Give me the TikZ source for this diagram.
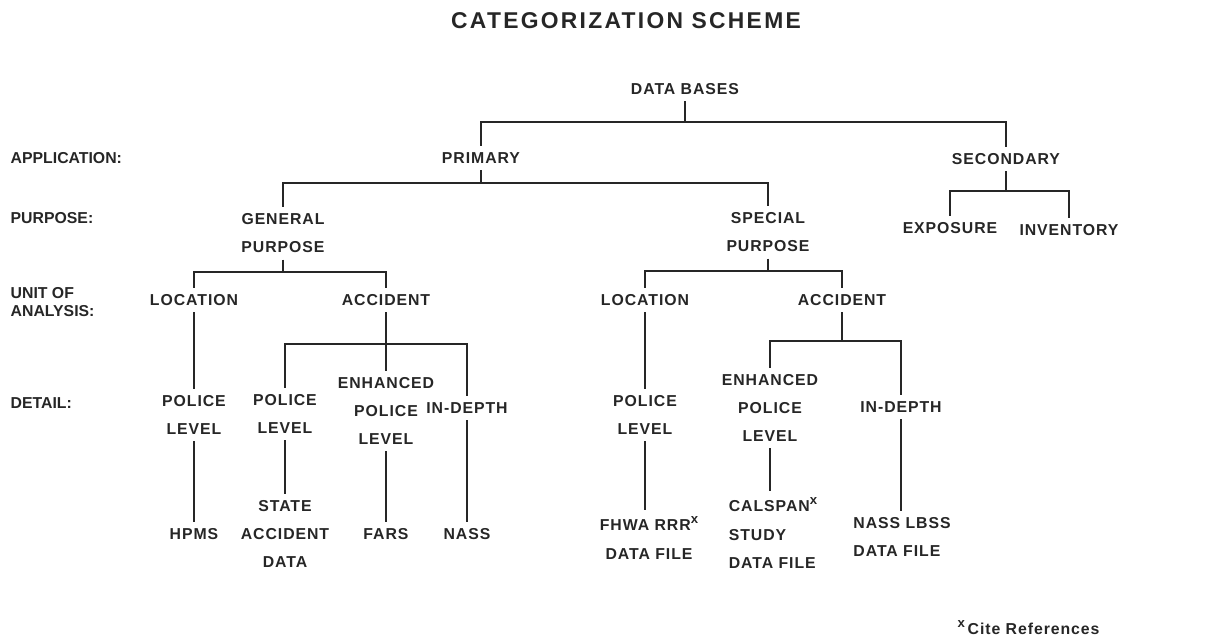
\documentclass[tikz,border=0pt]{standalone}
\usepackage{fontspec}
\setmainfont{Liberation Sans}
\newfontfamily\treefont{Liberation Sans}[LetterSpace=6]
\newfontfamily\headfont{Liberation Sans}[LetterSpace=10]
\newcommand{\citex}{\raisebox{0.45em}{\fontsize{7.5}{8}\selectfont x}}
\begin{document}
\begin{tikzpicture}[x=0.02cm, y=-0.02cm, line width=0.8pt, draw=black!85,
  every node/.style={text=black!85, inner sep=3.5pt},
  cat/.style={font=\treefont\bfseries\fontsize{9}{16}\selectfont, align=center},
  lvl/.style={font=\bfseries\fontsize{9}{10.3}\selectfont, anchor=west, align=left, inner sep=0pt}]
\useasboundingbox (0,0) rectangle (1210,637);
% title and level names
\node[font=\headfont\bfseries\fontsize{13}{15}\selectfont] (title) at (626,21) {CATEGORIZATION SCHEME};
\node[lvl] (app) at (10,158) {APPLICATION:};
\node[lvl] (purp) at (10,218) {PURPOSE:};
\node[lvl] (unit) at (10,302) {UNIT OF\\ANALYSIS:};
\node[lvl] (detail) at (10,403) {DETAIL:};
% tree
\node[cat] (db) at (685,89) {DATA BASES};
\node[cat] (prim) at (481,158) {PRIMARY};
\node[cat] (sec) at (1006,159) {SECONDARY};
\node[cat] (gen) at (283,233) {GENERAL\\PURPOSE};
\node[cat] (spec) at (768,232) {SPECIAL\\PURPOSE};
\node[cat] (expo) at (950,228) {EXPOSURE};
\node[cat] (inv) at (1069,230) {INVENTORY};
\node[cat] (gloc) at (194,300) {LOCATION};
\node[cat] (gacc) at (386,300) {ACCIDENT};
\node[cat] (sloc) at (645,300) {LOCATION};
\node[cat] (sacc) at (842,300) {ACCIDENT};
\node[cat] (gpol) at (194,415) {POLICE\\LEVEL};
\node[cat] (gpol2) at (285,414) {POLICE\\LEVEL};
\node[cat] (genh) at (386,411) {ENHANCED\\POLICE\\LEVEL};
\node[cat] (gdep) at (467,408) {IN-DEPTH};
\node[cat] (spol) at (645,415) {POLICE\\LEVEL};
\node[cat] (senh) at (770,408) {ENHANCED\\POLICE\\LEVEL};
\node[cat] (sdep) at (901,407) {IN-DEPTH};
\node[cat] (hpms) at (194,534) {HPMS};
\node[cat] (state) at (285,534) {STATE\\ACCIDENT\\DATA};
\node[cat] (fars) at (386,534) {FARS};
\node[cat] (nass) at (467,534) {NASS};
\node[cat] (fhwa) at (649,538) {FHWA RRR\citex\\DATA FILE};
\node[cat, align=left] (calspan) at (773,533) {CALSPAN\citex\\STUDY\\DATA FILE};
\node[cat, align=left] (lbss) at (902,537) {NASS LBSS\\DATA FILE};
\node[font=\treefont\bfseries\fontsize{9}{11}\selectfont, anchor=west, inner sep=0pt] (note) at (957,628) {\citex\,Cite References};
% junctions
\coordinate (j1) at (685,122);
\coordinate (j2) at (481,183);
\coordinate (j3) at (1006,191);
\coordinate (j4) at (283,272);
\coordinate (j5) at (768,271);
\coordinate (j6) at (386,344);
\coordinate (j7) at (842,341);
\draw (db) -- (j1);
\draw (prim) |- (j1) -| (sec);
\draw (prim) -- (j2);
\draw (gen) |- (j2) -| (spec);
\draw (sec) -- (j3);
\draw (expo) |- (j3) -| (inv);
\draw (gen) -- (j4);
\draw (gloc) |- (j4) -| (gacc);
\draw (spec) -- (j5);
\draw (sloc) |- (j5) -| (sacc);
\draw (gloc) -- (gpol);
\draw (gacc) -- (genh);
\draw (gpol2) |- (j6) -| (gdep);
\draw (sloc) -- (spol);
\draw (sacc) -- (j7);
\draw (senh) |- (j7) -| (sdep);
\draw (gpol) -- (hpms);
\draw (gpol2) -- (state);
\draw (genh) -- (fars);
\draw (gdep) -- (nass);
\draw (spol) -- (spol |- fhwa.north);
\draw (senh) -- (senh |- calspan.north);
\draw (sdep) -- (sdep |- lbss.north);
\end{tikzpicture}
\end{document}
